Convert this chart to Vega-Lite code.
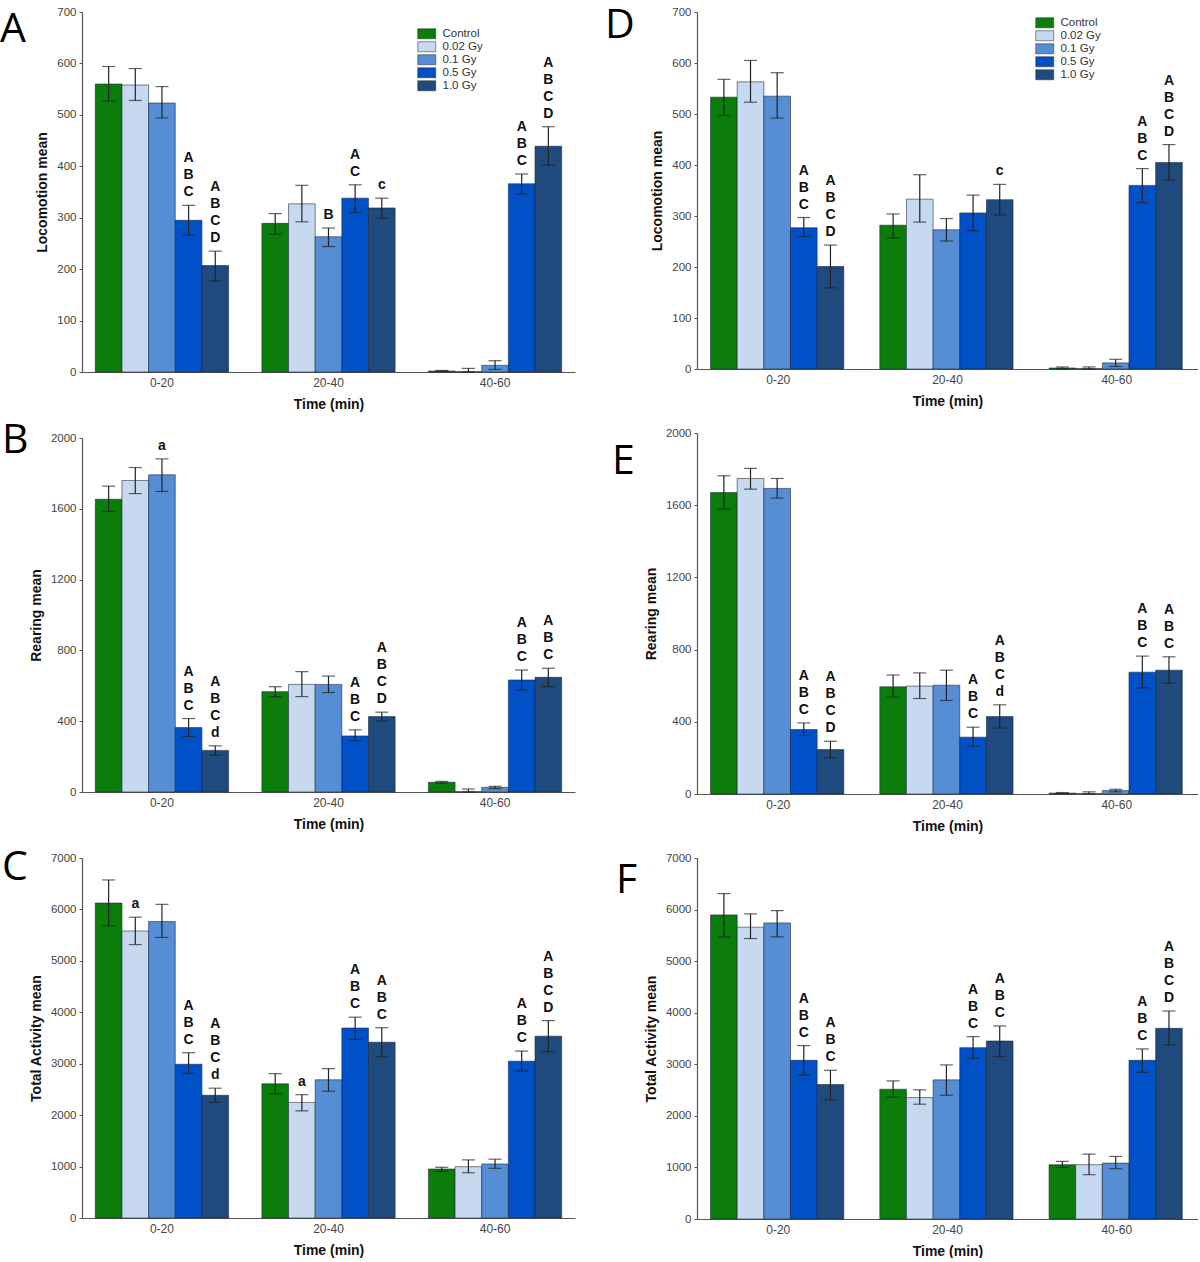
{
"$schema": "https://vega.github.io/schema/vega-lite/v6.json",
"padding": {"left": 0, "top": 5, "right": 0, "bottom": 0},
"datasets": {
"A": [
{"t":"0-20","g":"Control","m":560,"lo":527,"hi":594,"s":""},
{"t":"0-20","g":"0.02 Gy","m":558,"lo":528,"hi":590,"s":""},
{"t":"0-20","g":"0.1 Gy","m":523,"lo":494,"hi":555,"s":""},
{"t":"0-20","g":"0.5 Gy","m":295,"lo":266,"hi":324,"s":"A\nB\nC"},
{"t":"0-20","g":"1.0 Gy","m":207,"lo":177,"hi":235,"s":"A\nB\nC\nD"},
{"t":"20-40","g":"Control","m":289,"lo":268,"hi":308,"s":""},
{"t":"20-40","g":"0.02 Gy","m":327,"lo":292,"hi":363,"s":""},
{"t":"20-40","g":"0.1 Gy","m":263,"lo":244,"hi":280,"s":"B"},
{"t":"20-40","g":"0.5 Gy","m":338,"lo":310,"hi":364,"s":"A\nC"},
{"t":"20-40","g":"1.0 Gy","m":319,"lo":299,"hi":338,"s":"c"},
{"t":"40-60","g":"Control","m":2,"lo":1,"hi":3,"s":""},
{"t":"40-60","g":"0.02 Gy","m":1,"lo":0,"hi":7,"s":""},
{"t":"40-60","g":"0.1 Gy","m":13,"lo":5,"hi":22,"s":""},
{"t":"40-60","g":"0.5 Gy","m":366,"lo":346,"hi":385,"s":"A\nB\nC"},
{"t":"40-60","g":"1.0 Gy","m":439,"lo":402,"hi":477,"s":"A\nB\nC\nD"}
],
"B": [
{"t":"0-20","g":"Control","m":1654,"lo":1585,"hi":1728,"s":""},
{"t":"0-20","g":"0.02 Gy","m":1760,"lo":1686,"hi":1833,"s":""},
{"t":"0-20","g":"0.1 Gy","m":1792,"lo":1698,"hi":1882,"s":"a"},
{"t":"0-20","g":"0.5 Gy","m":364,"lo":314,"hi":415,"s":"A\nB\nC"},
{"t":"0-20","g":"1.0 Gy","m":235,"lo":208,"hi":261,"s":"A\nB\nC\nd"},
{"t":"20-40","g":"Control","m":567,"lo":539,"hi":595,"s":""},
{"t":"20-40","g":"0.02 Gy","m":608,"lo":539,"hi":680,"s":""},
{"t":"20-40","g":"0.1 Gy","m":608,"lo":562,"hi":655,"s":""},
{"t":"20-40","g":"0.5 Gy","m":317,"lo":289,"hi":351,"s":"A\nB\nC"},
{"t":"20-40","g":"1.0 Gy","m":426,"lo":402,"hi":451,"s":"A\nB\nC\nD"},
{"t":"40-60","g":"Control","m":55,"lo":50,"hi":60,"s":""},
{"t":"40-60","g":"0.02 Gy","m":3,"lo":0,"hi":17,"s":""},
{"t":"40-60","g":"0.1 Gy","m":26,"lo":19,"hi":32,"s":""},
{"t":"40-60","g":"0.5 Gy","m":633,"lo":576,"hi":689,"s":"A\nB\nC"},
{"t":"40-60","g":"1.0 Gy","m":648,"lo":595,"hi":699,"s":"A\nB\nC"}
],
"C": [
{"t":"0-20","g":"Control","m":6125,"lo":5685,"hi":6573,"s":""},
{"t":"0-20","g":"0.02 Gy","m":5581,"lo":5317,"hi":5849,"s":"a"},
{"t":"0-20","g":"0.1 Gy","m":5764,"lo":5455,"hi":6099,"s":""},
{"t":"0-20","g":"0.5 Gy","m":2990,"lo":2812,"hi":3214,"s":"A\nB\nC"},
{"t":"0-20","g":"1.0 Gy","m":2386,"lo":2248,"hi":2524,"s":"A\nB\nC\nd"},
{"t":"20-40","g":"Control","m":2609,"lo":2418,"hi":2806,"s":""},
{"t":"20-40","g":"0.02 Gy","m":2248,"lo":2083,"hi":2398,"s":"a"},
{"t":"20-40","g":"0.1 Gy","m":2688,"lo":2465,"hi":2905,"s":""},
{"t":"20-40","g":"0.5 Gy","m":3694,"lo":3471,"hi":3905,"s":"A\nB\nC"},
{"t":"20-40","g":"1.0 Gy","m":3418,"lo":3136,"hi":3700,"s":"A\nB\nC"},
{"t":"40-60","g":"Control","m":952,"lo":907,"hi":986,"s":""},
{"t":"40-60","g":"0.02 Gy","m":998,"lo":880,"hi":1130,"s":""},
{"t":"40-60","g":"0.1 Gy","m":1051,"lo":966,"hi":1144,"s":""},
{"t":"40-60","g":"0.5 Gy","m":3049,"lo":2859,"hi":3246,"s":"A\nB\nC"},
{"t":"40-60","g":"1.0 Gy","m":3536,"lo":3234,"hi":3838,"s":"A\nB\nC\nD"}
],
"D": [
{"t":"0-20","g":"Control","m":533,"lo":497,"hi":568,"s":""},
{"t":"0-20","g":"0.02 Gy","m":563,"lo":523,"hi":605,"s":""},
{"t":"0-20","g":"0.1 Gy","m":535,"lo":492,"hi":581,"s":""},
{"t":"0-20","g":"0.5 Gy","m":277,"lo":260,"hi":297,"s":"A\nB\nC"},
{"t":"0-20","g":"1.0 Gy","m":201,"lo":159,"hi":243,"s":"A\nB\nC\nD"},
{"t":"20-40","g":"Control","m":282,"lo":257,"hi":304,"s":""},
{"t":"20-40","g":"0.02 Gy","m":333,"lo":288,"hi":381,"s":""},
{"t":"20-40","g":"0.1 Gy","m":273,"lo":251,"hi":295,"s":""},
{"t":"20-40","g":"0.5 Gy","m":306,"lo":271,"hi":341,"s":""},
{"t":"20-40","g":"1.0 Gy","m":332,"lo":302,"hi":362,"s":"c"},
{"t":"40-60","g":"Control","m":2,"lo":0,"hi":4,"s":""},
{"t":"40-60","g":"0.02 Gy","m":1,"lo":0,"hi":4,"s":""},
{"t":"40-60","g":"0.1 Gy","m":12,"lo":5,"hi":19,"s":""},
{"t":"40-60","g":"0.5 Gy","m":360,"lo":326,"hi":393,"s":"A\nB\nC"},
{"t":"40-60","g":"1.0 Gy","m":405,"lo":370,"hi":440,"s":"A\nB\nC\nD"}
],
"E": [
{"t":"0-20","g":"Control","m":1670,"lo":1578,"hi":1763,"s":""},
{"t":"0-20","g":"0.02 Gy","m":1748,"lo":1689,"hi":1804,"s":""},
{"t":"0-20","g":"0.1 Gy","m":1693,"lo":1639,"hi":1748,"s":""},
{"t":"0-20","g":"0.5 Gy","m":357,"lo":324,"hi":394,"s":"A\nB\nC"},
{"t":"0-20","g":"1.0 Gy","m":246,"lo":200,"hi":292,"s":"A\nB\nC\nD"},
{"t":"20-40","g":"Control","m":594,"lo":537,"hi":659,"s":""},
{"t":"20-40","g":"0.02 Gy","m":598,"lo":529,"hi":671,"s":""},
{"t":"20-40","g":"0.1 Gy","m":603,"lo":518,"hi":686,"s":""},
{"t":"20-40","g":"0.5 Gy","m":315,"lo":265,"hi":370,"s":"A\nB\nC"},
{"t":"20-40","g":"1.0 Gy","m":429,"lo":365,"hi":494,"s":"A\nB\nC\nd"},
{"t":"40-60","g":"Control","m":5,"lo":2,"hi":8,"s":""},
{"t":"40-60","g":"0.02 Gy","m":3,"lo":0,"hi":12,"s":""},
{"t":"40-60","g":"0.1 Gy","m":19,"lo":12,"hi":26,"s":""},
{"t":"40-60","g":"0.5 Gy","m":675,"lo":588,"hi":764,"s":"A\nB\nC"},
{"t":"40-60","g":"1.0 Gy","m":686,"lo":614,"hi":760,"s":"A\nB\nC"}
],
"F": [
{"t":"0-20","g":"Control","m":5897,"lo":5471,"hi":6310,"s":""},
{"t":"0-20","g":"0.02 Gy","m":5659,"lo":5438,"hi":5916,"s":""},
{"t":"0-20","g":"0.1 Gy","m":5742,"lo":5471,"hi":5980,"s":""},
{"t":"0-20","g":"0.5 Gy","m":3077,"lo":2795,"hi":3362,"s":"A\nB\nC"},
{"t":"0-20","g":"1.0 Gy","m":2607,"lo":2311,"hi":2884,"s":"A\nB\nC"},
{"t":"20-40","g":"Control","m":2516,"lo":2361,"hi":2678,"s":""},
{"t":"20-40","g":"0.02 Gy","m":2355,"lo":2226,"hi":2504,"s":""},
{"t":"20-40","g":"0.1 Gy","m":2698,"lo":2400,"hi":2988,"s":""},
{"t":"20-40","g":"0.5 Gy","m":3323,"lo":3116,"hi":3536,"s":"A\nB\nC"},
{"t":"20-40","g":"1.0 Gy","m":3452,"lo":3149,"hi":3743,"s":"A\nB\nC"},
{"t":"40-60","g":"Control","m":1053,"lo":1001,"hi":1117,"s":""},
{"t":"40-60","g":"0.02 Gy","m":1053,"lo":859,"hi":1258,"s":""},
{"t":"40-60","g":"0.1 Gy","m":1084,"lo":975,"hi":1213,"s":""},
{"t":"40-60","g":"0.5 Gy","m":3077,"lo":2845,"hi":3298,"s":"A\nB\nC"},
{"t":"40-60","g":"1.0 Gy","m":3697,"lo":3375,"hi":4033,"s":"A\nB\nC\nD"}
]
},
"spacing": 30,
"resolve": {"scale": {"color": "independent"}, "legend": {"color": "independent"}},
"hconcat": [
{
"bounds": "flush",
"spacing": 66,
"resolve": {"scale": {"color": "independent"}, "legend": {"color": "independent"}},
"vconcat": [
{
"width": 493, "height": 360,
"data": {"name": "A"},
"title": {"text": "A", "dx": -82, "dy": 49},
"encoding": {
"x": {"field": "t", "type": "nominal", "title": "Time (min)", "scale": {"domain": ["0-20","20-40","40-60"], "paddingInner": 0.2, "paddingOuter": 0.08}},
"xOffset": {"field": "g", "type": "nominal", "scale": {"domain": ["Control","0.02 Gy","0.1 Gy","0.5 Gy","1.0 Gy"], "paddingInner": 0, "paddingOuter": 0}}
},
"layer": [
{"mark": {"type": "bar"},
 "encoding": {"y": {"field": "m", "type": "quantitative", "title": "Locomotion mean", "scale": {"domain": [0,700]}, "axis": {"values": [0,100,200,300,400,500,600,700], "format": "d"}},
  "color": {"field": "g", "type": "nominal", "scale": {"domain": ["Control","0.02 Gy","0.1 Gy","0.5 Gy","1.0 Gy"], "range": ["#0a7d0a","#c6d9f1","#558ed5","#0050c8","#1f4a7e"]},
   "legend": {"orient": "none", "legendX": 339, "legendY": 16, "title": null}}}},
{"mark": {"type": "rule"}, "encoding": {"y": {"field": "lo", "type": "quantitative", "title": "Locomotion mean", "scale": {"domain": [0,700]}}, "y2": {"field": "hi"}}},
{"mark": {"type": "tick"}, "encoding": {"y": {"field": "lo", "type": "quantitative", "title": "Locomotion mean", "scale": {"domain": [0,700]}}}},
{"mark": {"type": "tick"}, "encoding": {"y": {"field": "hi", "type": "quantitative", "title": "Locomotion mean", "scale": {"domain": [0,700]}}}},
{"transform": [{"filter": "length(datum.s) == 1"}], "mark": {"type": "text", "dy": -6}, "encoding": {"y": {"field": "hi", "type": "quantitative", "title": "Locomotion mean", "scale": {"domain": [0,700]}}, "text": {"field": "s"}}},
{"transform": [{"filter": "length(datum.s) == 3"}], "mark": {"type": "text", "dy": -23}, "encoding": {"y": {"field": "hi", "type": "quantitative", "title": "Locomotion mean", "scale": {"domain": [0,700]}}, "text": {"field": "s"}}},
{"transform": [{"filter": "length(datum.s) == 5"}], "mark": {"type": "text", "dy": -40}, "encoding": {"y": {"field": "hi", "type": "quantitative", "title": "Locomotion mean", "scale": {"domain": [0,700]}}, "text": {"field": "s"}}},
{"transform": [{"filter": "length(datum.s) == 7"}], "mark": {"type": "text", "dy": -57}, "encoding": {"y": {"field": "hi", "type": "quantitative", "title": "Locomotion mean", "scale": {"domain": [0,700]}}, "text": {"field": "s"}}}
]
},
{
"width": 493, "height": 354,
"data": {"name": "B"},
"title": {"text": "B", "dx": -80, "dy": 34},
"encoding": {
"x": {"field": "t", "type": "nominal", "title": "Time (min)", "scale": {"domain": ["0-20","20-40","40-60"], "paddingInner": 0.2, "paddingOuter": 0.08}},
"xOffset": {"field": "g", "type": "nominal", "scale": {"domain": ["Control","0.02 Gy","0.1 Gy","0.5 Gy","1.0 Gy"], "paddingInner": 0, "paddingOuter": 0}}
},
"layer": [
{"mark": {"type": "bar"},
 "encoding": {"y": {"field": "m", "type": "quantitative", "title": "Rearing mean", "scale": {"domain": [0,2000]}, "axis": {"values": [0,200,400,600,800,1000,1200,1400,1600,1800,2000], "format": "d"}},
  "color": {"field": "g", "type": "nominal", "scale": {"domain": ["Control","0.02 Gy","0.1 Gy","0.5 Gy","1.0 Gy"], "range": ["#0a7d0a","#c6d9f1","#558ed5","#0050c8","#1f4a7e"]}, "legend": null}}},
{"mark": {"type": "rule"}, "encoding": {"y": {"field": "lo", "type": "quantitative", "title": "Rearing mean", "scale": {"domain": [0,2000]}}, "y2": {"field": "hi"}}},
{"mark": {"type": "tick"}, "encoding": {"y": {"field": "lo", "type": "quantitative", "title": "Rearing mean", "scale": {"domain": [0,2000]}}}},
{"mark": {"type": "tick"}, "encoding": {"y": {"field": "hi", "type": "quantitative", "title": "Rearing mean", "scale": {"domain": [0,2000]}}}},
{"transform": [{"filter": "length(datum.s) == 1"}], "mark": {"type": "text", "dy": -6}, "encoding": {"y": {"field": "hi", "type": "quantitative", "title": "Rearing mean", "scale": {"domain": [0,2000]}}, "text": {"field": "s"}}},
{"transform": [{"filter": "length(datum.s) == 3"}], "mark": {"type": "text", "dy": -23}, "encoding": {"y": {"field": "hi", "type": "quantitative", "title": "Rearing mean", "scale": {"domain": [0,2000]}}, "text": {"field": "s"}}},
{"transform": [{"filter": "length(datum.s) == 5"}], "mark": {"type": "text", "dy": -40}, "encoding": {"y": {"field": "hi", "type": "quantitative", "title": "Rearing mean", "scale": {"domain": [0,2000]}}, "text": {"field": "s"}}},
{"transform": [{"filter": "length(datum.s) == 7"}], "mark": {"type": "text", "dy": -57}, "encoding": {"y": {"field": "hi", "type": "quantitative", "title": "Rearing mean", "scale": {"domain": [0,2000]}}, "text": {"field": "s"}}}
]
},
{
"width": 493, "height": 360,
"data": {"name": "C"},
"title": {"text": "C", "dx": -80, "dy": 41},
"encoding": {
"x": {"field": "t", "type": "nominal", "title": "Time (min)", "scale": {"domain": ["0-20","20-40","40-60"], "paddingInner": 0.2, "paddingOuter": 0.08}},
"xOffset": {"field": "g", "type": "nominal", "scale": {"domain": ["Control","0.02 Gy","0.1 Gy","0.5 Gy","1.0 Gy"], "paddingInner": 0, "paddingOuter": 0}}
},
"layer": [
{"mark": {"type": "bar"},
 "encoding": {"y": {"field": "m", "type": "quantitative", "title": "Total Activity mean", "scale": {"domain": [0,7000]}, "axis": {"values": [0,1000,2000,3000,4000,5000,6000,7000], "format": "d"}},
  "color": {"field": "g", "type": "nominal", "scale": {"domain": ["Control","0.02 Gy","0.1 Gy","0.5 Gy","1.0 Gy"], "range": ["#0a7d0a","#c6d9f1","#558ed5","#0050c8","#1f4a7e"]}, "legend": null}}},
{"mark": {"type": "rule"}, "encoding": {"y": {"field": "lo", "type": "quantitative", "title": "Total Activity mean", "scale": {"domain": [0,7000]}}, "y2": {"field": "hi"}}},
{"mark": {"type": "tick"}, "encoding": {"y": {"field": "lo", "type": "quantitative", "title": "Total Activity mean", "scale": {"domain": [0,7000]}}}},
{"mark": {"type": "tick"}, "encoding": {"y": {"field": "hi", "type": "quantitative", "title": "Total Activity mean", "scale": {"domain": [0,7000]}}}},
{"transform": [{"filter": "length(datum.s) == 1"}], "mark": {"type": "text", "dy": -6}, "encoding": {"y": {"field": "hi", "type": "quantitative", "title": "Total Activity mean", "scale": {"domain": [0,7000]}}, "text": {"field": "s"}}},
{"transform": [{"filter": "length(datum.s) == 3"}], "mark": {"type": "text", "dy": -23}, "encoding": {"y": {"field": "hi", "type": "quantitative", "title": "Total Activity mean", "scale": {"domain": [0,7000]}}, "text": {"field": "s"}}},
{"transform": [{"filter": "length(datum.s) == 5"}], "mark": {"type": "text", "dy": -40}, "encoding": {"y": {"field": "hi", "type": "quantitative", "title": "Total Activity mean", "scale": {"domain": [0,7000]}}, "text": {"field": "s"}}},
{"transform": [{"filter": "length(datum.s) == 7"}], "mark": {"type": "text", "dy": -57}, "encoding": {"y": {"field": "hi", "type": "quantitative", "title": "Total Activity mean", "scale": {"domain": [0,7000]}}, "text": {"field": "s"}}}
]
}
]
},
{
"bounds": "flush",
"spacing": 64,
"resolve": {"scale": {"color": "independent"}, "legend": {"color": "independent"}},
"vconcat": [
{
"width": 501, "height": 357,
"data": {"name": "D"},
"title": {"text": "D", "dx": -92, "dy": 45},
"encoding": {
"x": {"field": "t", "type": "nominal", "title": "Time (min)", "scale": {"domain": ["0-20","20-40","40-60"], "paddingInner": 0.2, "paddingOuter": 0.08}},
"xOffset": {"field": "g", "type": "nominal", "scale": {"domain": ["Control","0.02 Gy","0.1 Gy","0.5 Gy","1.0 Gy"], "paddingInner": 0, "paddingOuter": 0}}
},
"layer": [
{"mark": {"type": "bar"},
 "encoding": {"y": {"field": "m", "type": "quantitative", "title": "Locomotion mean", "scale": {"domain": [0,700]}, "axis": {"values": [0,100,200,300,400,500,600,700], "format": "d"}},
  "color": {"field": "g", "type": "nominal", "scale": {"domain": ["Control","0.02 Gy","0.1 Gy","0.5 Gy","1.0 Gy"], "range": ["#0a7d0a","#c6d9f1","#558ed5","#0050c8","#1f4a7e"]},
   "legend": {"orient": "none", "legendX": 342, "legendY": 5, "title": null}}}},
{"mark": {"type": "rule"}, "encoding": {"y": {"field": "lo", "type": "quantitative", "title": "Locomotion mean", "scale": {"domain": [0,700]}}, "y2": {"field": "hi"}}},
{"mark": {"type": "tick"}, "encoding": {"y": {"field": "lo", "type": "quantitative", "title": "Locomotion mean", "scale": {"domain": [0,700]}}}},
{"mark": {"type": "tick"}, "encoding": {"y": {"field": "hi", "type": "quantitative", "title": "Locomotion mean", "scale": {"domain": [0,700]}}}},
{"transform": [{"filter": "length(datum.s) == 1"}], "mark": {"type": "text", "dy": -6}, "encoding": {"y": {"field": "hi", "type": "quantitative", "title": "Locomotion mean", "scale": {"domain": [0,700]}}, "text": {"field": "s"}}},
{"transform": [{"filter": "length(datum.s) == 3"}], "mark": {"type": "text", "dy": -23}, "encoding": {"y": {"field": "hi", "type": "quantitative", "title": "Locomotion mean", "scale": {"domain": [0,700]}}, "text": {"field": "s"}}},
{"transform": [{"filter": "length(datum.s) == 5"}], "mark": {"type": "text", "dy": -40}, "encoding": {"y": {"field": "hi", "type": "quantitative", "title": "Locomotion mean", "scale": {"domain": [0,700]}}, "text": {"field": "s"}}},
{"transform": [{"filter": "length(datum.s) == 7"}], "mark": {"type": "text", "dy": -57}, "encoding": {"y": {"field": "hi", "type": "quantitative", "title": "Locomotion mean", "scale": {"domain": [0,700]}}, "text": {"field": "s"}}}
]
},
{
"width": 501, "height": 361,
"data": {"name": "E"},
"title": {"text": "E", "dx": -85, "dy": 60},
"encoding": {
"x": {"field": "t", "type": "nominal", "title": "Time (min)", "scale": {"domain": ["0-20","20-40","40-60"], "paddingInner": 0.2, "paddingOuter": 0.08}},
"xOffset": {"field": "g", "type": "nominal", "scale": {"domain": ["Control","0.02 Gy","0.1 Gy","0.5 Gy","1.0 Gy"], "paddingInner": 0, "paddingOuter": 0}}
},
"layer": [
{"mark": {"type": "bar"},
 "encoding": {"y": {"field": "m", "type": "quantitative", "title": "Rearing mean", "scale": {"domain": [0,2000]}, "axis": {"values": [0,200,400,600,800,1000,1200,1400,1600,1800,2000], "format": "d"}},
  "color": {"field": "g", "type": "nominal", "scale": {"domain": ["Control","0.02 Gy","0.1 Gy","0.5 Gy","1.0 Gy"], "range": ["#0a7d0a","#c6d9f1","#558ed5","#0050c8","#1f4a7e"]}, "legend": null}}},
{"mark": {"type": "rule"}, "encoding": {"y": {"field": "lo", "type": "quantitative", "title": "Rearing mean", "scale": {"domain": [0,2000]}}, "y2": {"field": "hi"}}},
{"mark": {"type": "tick"}, "encoding": {"y": {"field": "lo", "type": "quantitative", "title": "Rearing mean", "scale": {"domain": [0,2000]}}}},
{"mark": {"type": "tick"}, "encoding": {"y": {"field": "hi", "type": "quantitative", "title": "Rearing mean", "scale": {"domain": [0,2000]}}}},
{"transform": [{"filter": "length(datum.s) == 1"}], "mark": {"type": "text", "dy": -6}, "encoding": {"y": {"field": "hi", "type": "quantitative", "title": "Rearing mean", "scale": {"domain": [0,2000]}}, "text": {"field": "s"}}},
{"transform": [{"filter": "length(datum.s) == 3"}], "mark": {"type": "text", "dy": -23}, "encoding": {"y": {"field": "hi", "type": "quantitative", "title": "Rearing mean", "scale": {"domain": [0,2000]}}, "text": {"field": "s"}}},
{"transform": [{"filter": "length(datum.s) == 5"}], "mark": {"type": "text", "dy": -40}, "encoding": {"y": {"field": "hi", "type": "quantitative", "title": "Rearing mean", "scale": {"domain": [0,2000]}}, "text": {"field": "s"}}},
{"transform": [{"filter": "length(datum.s) == 7"}], "mark": {"type": "text", "dy": -57}, "encoding": {"y": {"field": "hi", "type": "quantitative", "title": "Rearing mean", "scale": {"domain": [0,2000]}}, "text": {"field": "s"}}}
]
},
{
"width": 501, "height": 361,
"data": {"name": "F"},
"title": {"text": "F", "dx": -81, "dy": 54},
"encoding": {
"x": {"field": "t", "type": "nominal", "title": "Time (min)", "scale": {"domain": ["0-20","20-40","40-60"], "paddingInner": 0.2, "paddingOuter": 0.08}},
"xOffset": {"field": "g", "type": "nominal", "scale": {"domain": ["Control","0.02 Gy","0.1 Gy","0.5 Gy","1.0 Gy"], "paddingInner": 0, "paddingOuter": 0}}
},
"layer": [
{"mark": {"type": "bar"},
 "encoding": {"y": {"field": "m", "type": "quantitative", "title": "Total Activity mean", "scale": {"domain": [0,7000]}, "axis": {"values": [0,1000,2000,3000,4000,5000,6000,7000], "format": "d"}},
  "color": {"field": "g", "type": "nominal", "scale": {"domain": ["Control","0.02 Gy","0.1 Gy","0.5 Gy","1.0 Gy"], "range": ["#0a7d0a","#c6d9f1","#558ed5","#0050c8","#1f4a7e"]}, "legend": null}}},
{"mark": {"type": "rule"}, "encoding": {"y": {"field": "lo", "type": "quantitative", "title": "Total Activity mean", "scale": {"domain": [0,7000]}}, "y2": {"field": "hi"}}},
{"mark": {"type": "tick"}, "encoding": {"y": {"field": "lo", "type": "quantitative", "title": "Total Activity mean", "scale": {"domain": [0,7000]}}}},
{"mark": {"type": "tick"}, "encoding": {"y": {"field": "hi", "type": "quantitative", "title": "Total Activity mean", "scale": {"domain": [0,7000]}}}},
{"transform": [{"filter": "length(datum.s) == 1"}], "mark": {"type": "text", "dy": -6}, "encoding": {"y": {"field": "hi", "type": "quantitative", "title": "Total Activity mean", "scale": {"domain": [0,7000]}}, "text": {"field": "s"}}},
{"transform": [{"filter": "length(datum.s) == 3"}], "mark": {"type": "text", "dy": -23}, "encoding": {"y": {"field": "hi", "type": "quantitative", "title": "Total Activity mean", "scale": {"domain": [0,7000]}}, "text": {"field": "s"}}},
{"transform": [{"filter": "length(datum.s) == 5"}], "mark": {"type": "text", "dy": -40}, "encoding": {"y": {"field": "hi", "type": "quantitative", "title": "Total Activity mean", "scale": {"domain": [0,7000]}}, "text": {"field": "s"}}},
{"transform": [{"filter": "length(datum.s) == 7"}], "mark": {"type": "text", "dy": -57}, "encoding": {"y": {"field": "hi", "type": "quantitative", "title": "Total Activity mean", "scale": {"domain": [0,7000]}}, "text": {"field": "s"}}}
]
}
]
}
],
"config": {
"view": {"stroke": null},
"font": "Liberation Sans",
"bar": {"stroke": "#1a2236", "strokeWidth": 0.7, "strokeOpacity": 0.8},
"rule": {"color": "#222", "strokeWidth": 1.2},
"tick": {"orient": "horizontal", "color": "#222", "size": 13, "thickness": 1.2},
"text": {"baseline": "bottom", "lineBreak": "\n", "lineHeight": 17, "fontSize": 14, "fontWeight": "bold", "font": "Liberation Sans Narrow, Arial Narrow, Liberation Sans", "color": "#111"},
"axis": {"grid": false, "labelFont": "Liberation Sans", "labelColor": "#444", "domainColor": "#555", "tickColor": "#555", "titleFont": "Liberation Sans", "titleFontSize": 14, "titleFontWeight": "bold", "titleColor": "#111", "domainWidth": 1.2},
"axisX": {"ticks": false, "labelFontSize": 12, "labelPadding": 5, "titlePadding": 9, "labelAngle": 0},
"axisY": {"tickSize": 3, "labelFontSize": 11.5, "labelPadding": 3, "titlePadding": 7},
"title": {"font": "Open Sans", "fontSize": 41, "fontWeight": "normal", "anchor": "start", "frame": "group", "baseline": "top", "offset": 0, "color": "#000"},
"legend": {"symbolType": "M-1.8,-1L1.8,-1L1.8,1L-1.8,1Z", "symbolSize": 100, "symbolStrokeColor": "#333", "symbolStrokeWidth": 0.7, "symbolOpacity": 1, "labelFont": "Liberation Sans", "labelFontSize": 11.5, "labelColor": "#333", "labelOffset": 10, "rowPadding": -1, "padding": 0}
}
}
